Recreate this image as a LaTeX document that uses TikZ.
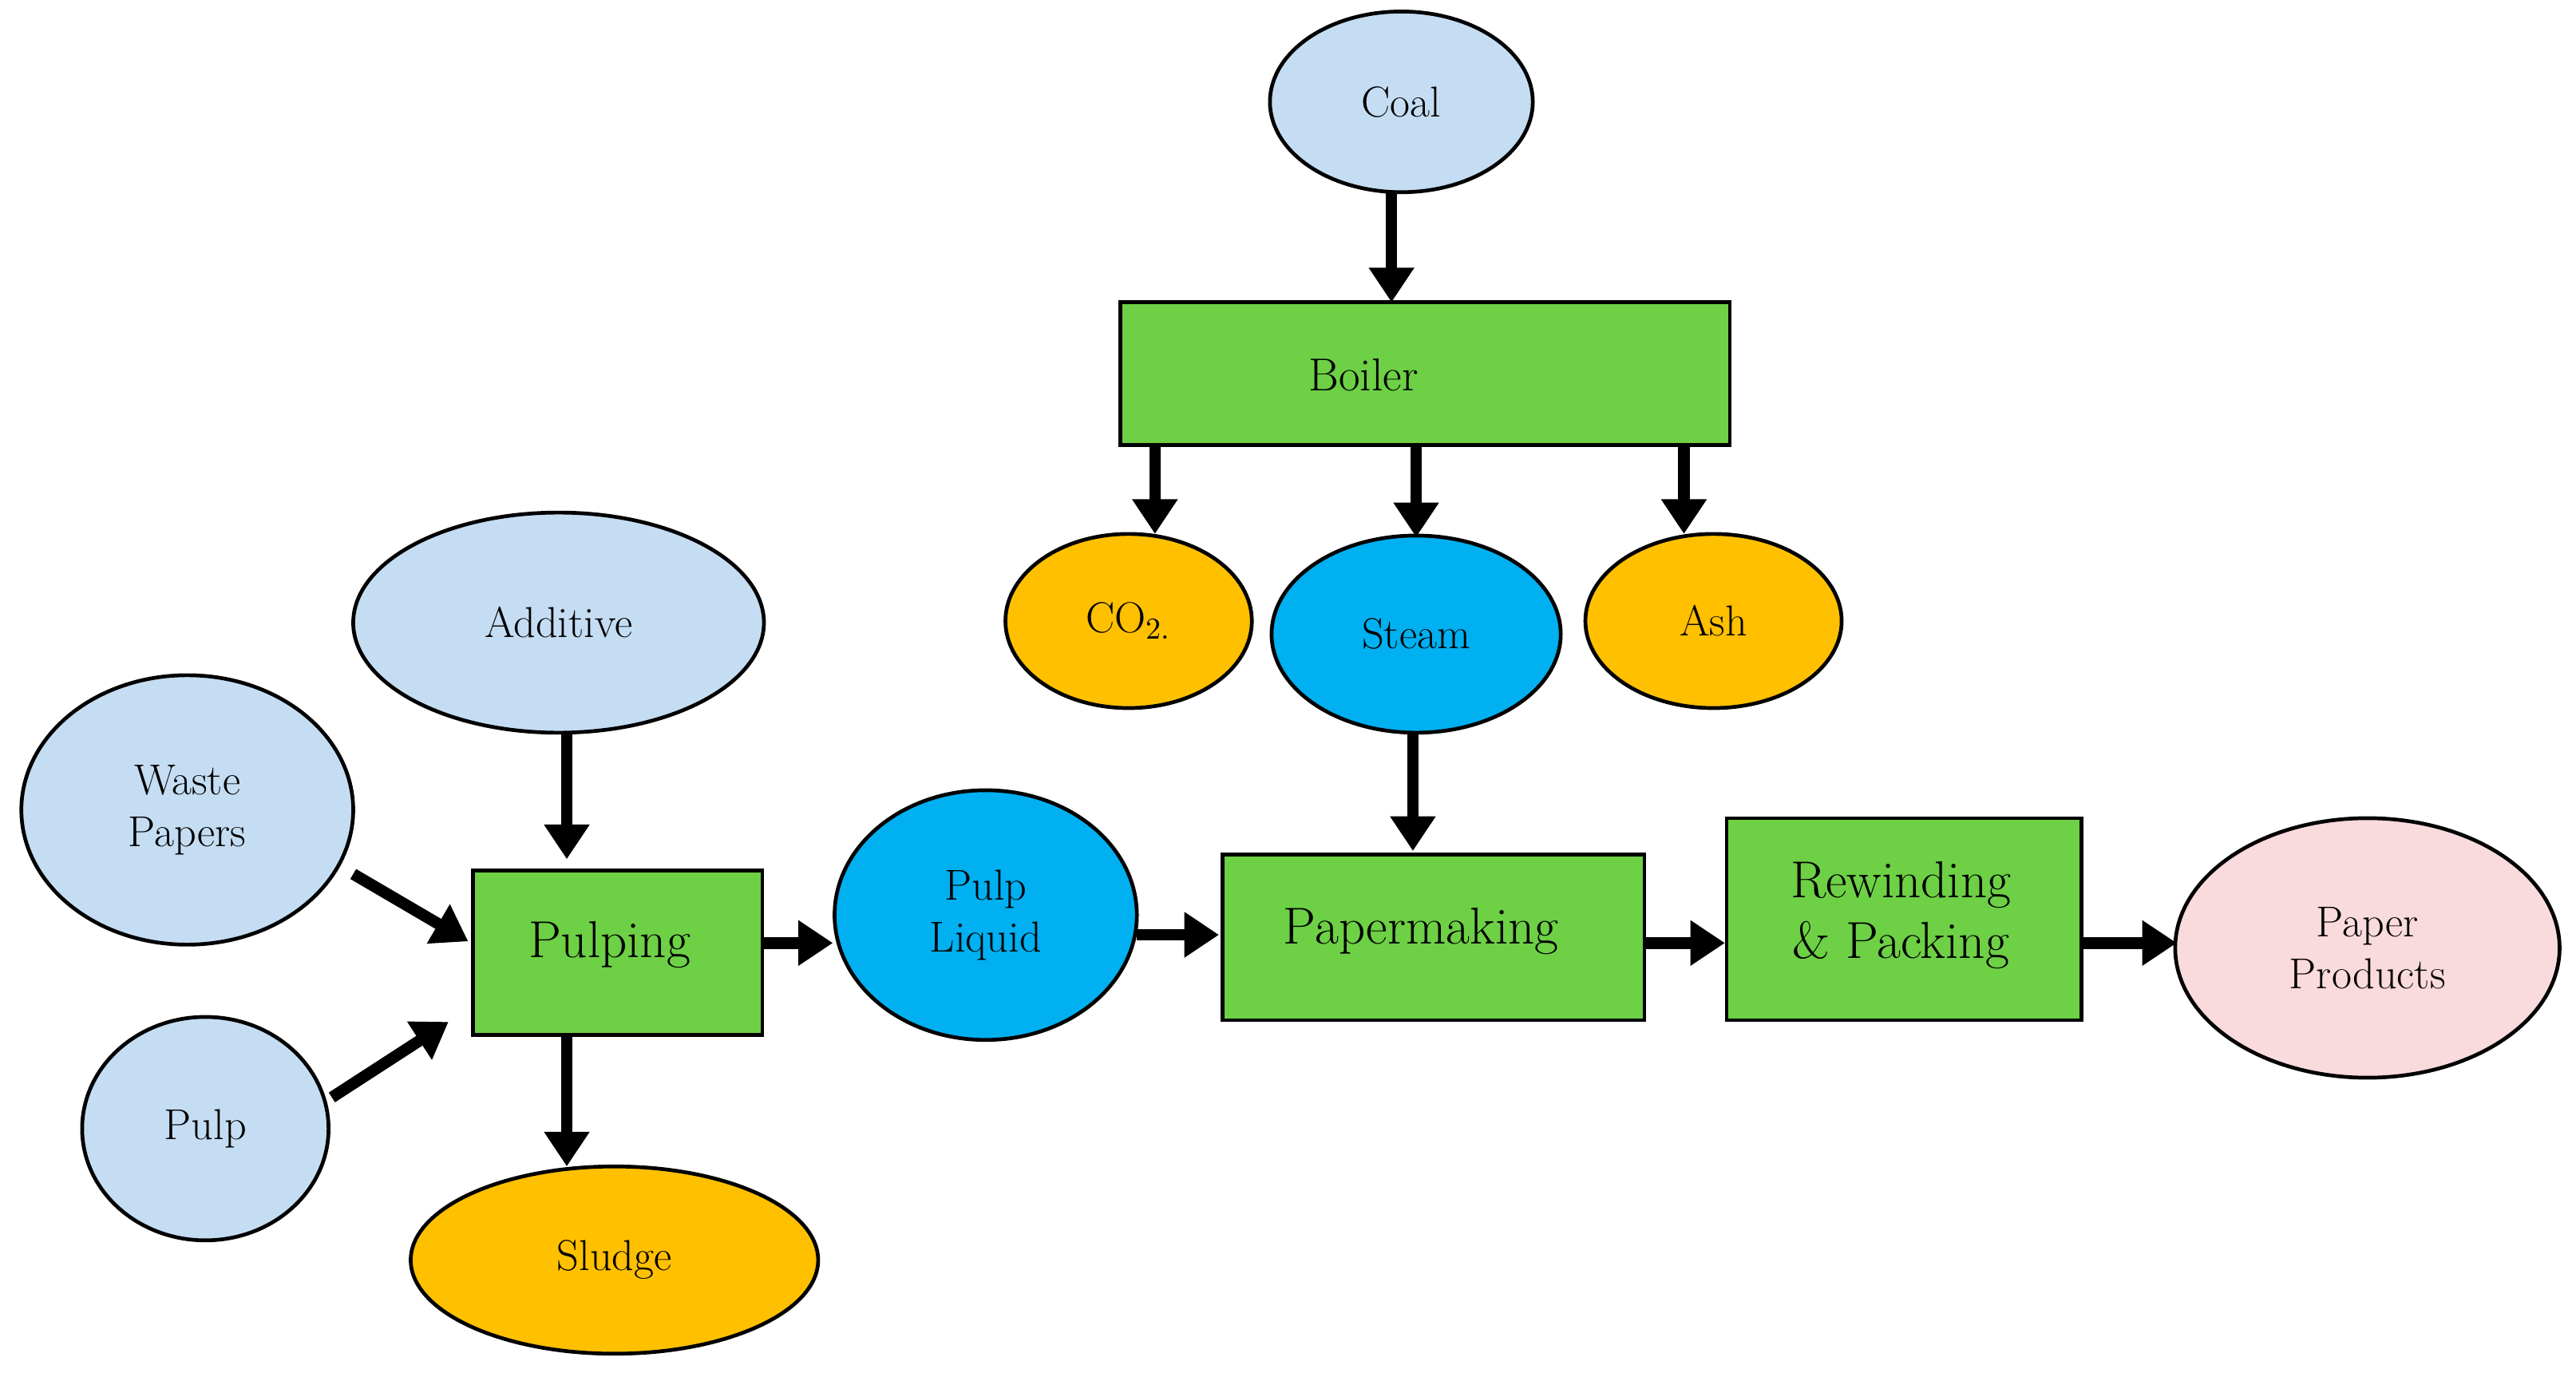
\documentclass[tikz,border=0pt]{standalone}
\usetikzlibrary{arrows.meta}
\definecolor{lb}{RGB}{197,221,243}
\definecolor{gr}{RGB}{109,208,69}
\definecolor{og}{RGB}{255,192,0}
\definecolor{bl}{RGB}{0,176,240}
\definecolor{pk}{RGB}{249,218,221}
\begin{document}
\begin{tikzpicture}[x=0.02cm,y=-0.02cm,
  el/.style={draw=black,line width=1.3pt,ellipse,minimum width=#1},
  bx/.style={draw=black,line width=1.3pt,fill=gr,anchor=north west},
  ar/.style={line width=4pt,-{Triangle[length=12pt,width=15pt]}},
  t/.style={font=\fontsize{15}{18}\selectfont,align=center},
  tb/.style={font=\fontsize{18}{21}\selectfont,align=center}]
\useasboundingbox (0,0) rectangle (1568,838);
\def\E#1#2#3#4#5#6{\draw[line width=1.3pt,fill=#6] (#2,#3) ellipse [x radius=#4, y radius=#5]; \coordinate (#1) at (#2,#3);}
\E{coal}{853}{62}{80}{55}{lb}
\E{co2}{687}{378}{75}{53}{og}
\E{steam}{862}{386}{88}{60}{bl}
\E{ash}{1043}{378}{78}{53}{og}
\E{add}{340}{379}{125}{67}{lb}
\E{waste}{114}{493}{101}{82}{lb}
\E{pulp}{125}{687}{75}{68}{lb}
\E{sludge}{374}{767}{124}{57}{og}
\E{liq}{600}{557}{92}{76}{bl}
\E{prod}{1441}{577}{117}{79}{pk}
\node[t] at (coal) {Coal};
\node[t] at (co2) {CO\textsubscript{2.}};
\node[t] at (steam) {Steam};
\node[t] at (ash) {Ash};
\node[t] at (add) {Additive};
\node[t] at (waste) {Waste\\Papers};
\node[t] at (pulp) {Pulp};
\node[t] at (sludge) {Sludge};
\node[t] at (liq) {Pulp\\Liquid};
\node[t] at (prod) {Paper\\Products};
\draw[line width=1.3pt,fill=gr] (682,184) rectangle (1053,271); \node[t,font=\fontsize{16}{19}\selectfont] (boiler) at (830,228) {Boiler};
\draw[line width=1.3pt,fill=gr] (288,530) rectangle (464,630); \node[tb] (pulping) at (371,575) {Pulping};
\draw[line width=1.3pt,fill=gr] (744,520) rectangle (1001,621); \node[tb] (pm) at (865,567) {Papermaking};
\draw[line width=1.3pt,fill=gr] (1051,498) rectangle (1267,621); \node[tb] (rw) at (1157,557) {Rewinding\\\& Packing};
\coordinate (a1) at (847,116); \coordinate (a2) at (847,184);
\draw[ar] (a1) -- (a2);
\foreach \x/\y in {703/325,862/327,1025/325} \draw[ar] (\x,271) -- (\x,\y);
\draw[ar] (345,447) -- (345,523);
\draw[ar] (215,532) -- (285,573);
\draw[ar] (202,668) -- (273,622);
\draw[ar] (345,631) -- (345,710);
\draw[ar] (464,574) -- (507,574);
\draw[ar] (692,569) -- (742,569);
\draw[ar] (860,447) -- (860,518);
\draw[ar] (1001,574) -- (1050,574);
\draw[ar] (1267,574) -- (1325,574);
\end{tikzpicture}
\end{document}
